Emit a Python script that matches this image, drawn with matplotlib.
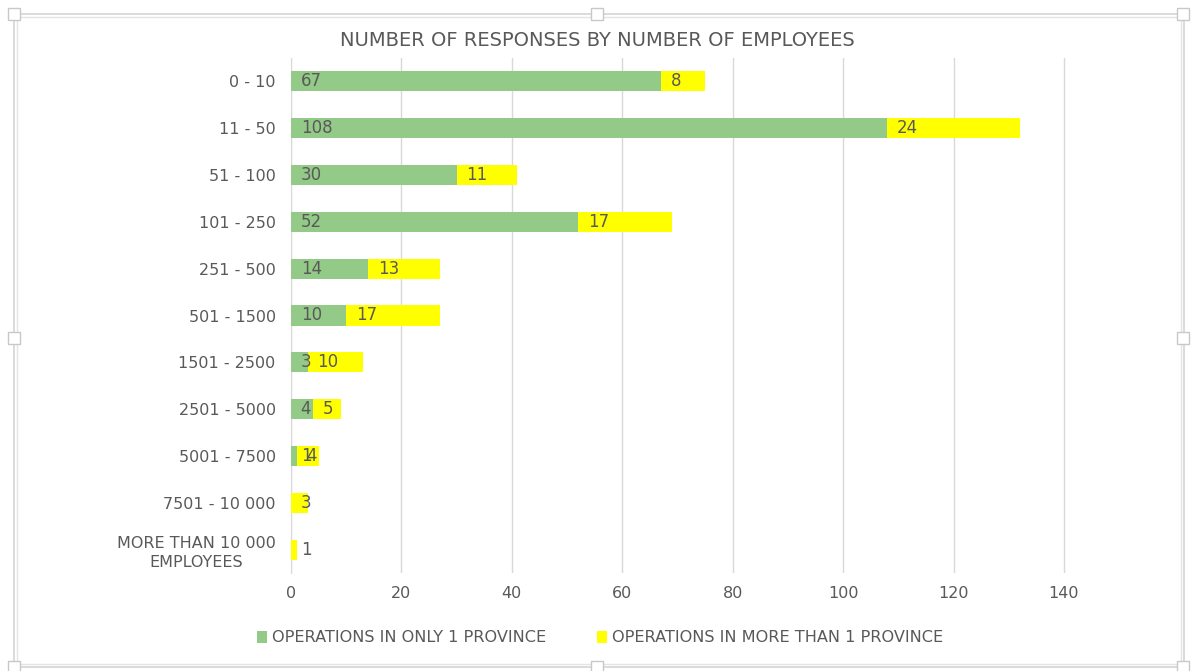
import matplotlib
matplotlib.use("Agg")
import matplotlib.pyplot as plt
from matplotlib.patches import Rectangle
import numpy as np

categories = ["0 - 10", "11 - 50", "51 - 100", "101 - 250", "251 - 500", "501 - 1500",
              "1501 - 2500", "2501 - 5000", "5001 - 7500", "7501 - 10 000",
              "MORE THAN 10 000\nEMPLOYEES"]
only_one = [67, 108, 30, 52, 14, 10, 3, 4, 1, 0, 0]
more_than_one = [8, 24, 11, 17, 13, 17, 10, 5, 4, 3, 1]
series_names = ["OPERATIONS IN ONLY 1 PROVINCE", "OPERATIONS IN MORE THAN 1 PROVINCE"]
x_ticks = [0, 20, 40, 60, 80, 100, 120, 140]

GREEN = "#93CA87"
YELLOW = "#FFFF00"
TEXT = "#595959"

W, H = 1193, 671
fig = plt.figure(figsize=(W / 100, H / 100), dpi=100)
xmax = 140.4
ax = fig.add_axes([291 / W, 1 - 573 / H, (1064 - 291) / W * xmax / 140, (573 - 58) / H])

y = np.arange(len(categories))
bh = 0.43
b1 = ax.barh(y, only_one, height=bh, color=GREEN, label=series_names[0], zorder=3)
b2 = ax.barh(y, more_than_one, left=only_one, height=bh, color=YELLOW, label=series_names[1], zorder=3)

for i in range(len(categories)):
    if only_one[i] > 0:
        ax.annotate(str(only_one[i]), (0, y[i]), xytext=(7, 0), textcoords="offset points",
                    va="center", ha="left", fontsize=12, color=TEXT, zorder=4)
    if more_than_one[i] > 0:
        ax.annotate(str(more_than_one[i]), (only_one[i], y[i]), xytext=(7, 0), textcoords="offset points",
                    va="center", ha="left", fontsize=12, color=TEXT, zorder=4)

ax.set_xlim(0, xmax)
ax.set_ylim(len(categories) - 0.5, -0.5)
ax.set_xticks(x_ticks)
ax.set_xticklabels([str(t) for t in x_ticks])
ax.set_yticks(y)
ax.set_yticklabels(categories, linespacing=1.3)
ax.tick_params(axis="both", length=0, labelsize=11.5, colors=TEXT)
ax.tick_params(axis="y", pad=11)
ax.tick_params(axis="x", pad=9)
ax.grid(axis="x", color="#D9D9D9", linewidth=1, zorder=0)
for s in ["top", "right", "bottom"]:
    ax.spines[s].set_visible(False)
ax.spines["left"].set_color("#D9D9D9")
ax.spines["left"].set_zorder(1)

for lbl in ax.get_yticklabels():
    lbl.set_multialignment("center")

fig.text(597 / W, 1 - 40 / H, "NUMBER OF RESPONSES BY NUMBER OF EMPLOYEES",
         ha="center", va="center", fontsize=14, color=TEXT)

leg = fig.legend(handles=[b1, b2], labels=series_names, loc="center",
                 bbox_to_anchor=(600 / W, 1 - 638 / H), ncol=2, frameon=False,
                 handlelength=0.6, handleheight=0.8, handletextpad=0.3, columnspacing=3.2,
                 prop={"size": 11.6})
for t in leg.get_texts():
    t.set_color(TEXT)

# selection frame
fig.patches.append(Rectangle((14 / W, 1 - 667 / H), (1170) / W, (653) / H, transform=fig.transFigure,
                             fill=False, edgecolor="#D4D4D4", linewidth=1.2))
fig.patches.append(Rectangle((17 / W, 1 - 664 / H), (1164) / W, (647) / H, transform=fig.transFigure,
                             fill=False, edgecolor="#E4E4E4", linewidth=1.0))
for hx, hy in [(14, 14), (597, 14), (1183, 14), (14, 338), (1183, 338), (14, 667), (597, 667), (1183, 667)]:
    fig.patches.append(Rectangle(((hx - 6) / W, 1 - (hy + 6) / H), 12 / W, 12 / H, transform=fig.transFigure,
                                 facecolor="white", edgecolor="#C8C8C8", linewidth=1.0, zorder=5))

fig.savefig("out.png", dpi=100)
